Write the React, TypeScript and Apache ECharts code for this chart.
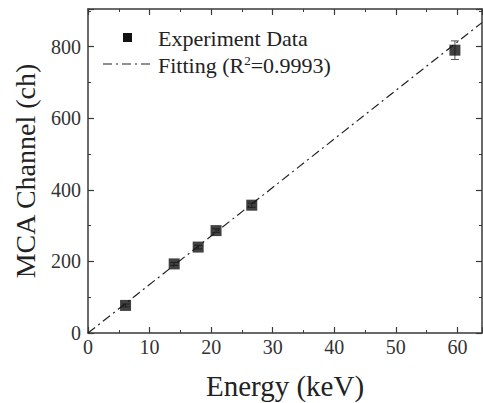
import React, { useEffect, useRef } from "react";
import * as echarts from "echarts";

const energies = [6.1, 14.0, 17.9, 20.8, 26.6, 59.6];
const channels = [77, 193, 240, 286, 357, 790];
const errors = [4, 4, 5, 5, 6, 26];
const fitX = [0, 64];
const fitY = [0, 867];
const xTicks = [0, 10, 20, 30, 40, 50, 60];
const yTicks = [0, 200, 400, 600, 800];

const FONT = "Liberation Serif";
const AX = "#3a3a3a";

export default function App() {
  const ref = useRef<HTMLDivElement>(null);
  useEffect(() => {
    if (!ref.current) return;
    const chart = echarts.init(ref.current, undefined, { renderer: "svg" });
    const axisCommon = {
      axisLine: { show: true, onZero: false, lineStyle: { color: AX, width: 1.5 } },
      axisTick: { show: true, inside: true, length: 6, lineStyle: { color: AX, width: 1.2 } },
      minorTick: { show: true, splitNumber: 2, length: 3, lineStyle: { color: AX, width: 1 } },
      splitLine: { show: false },
    };
    chart.setOption({
      animation: false,
      grid: { left: 88, top: 9, right: 1, bottom: 70, containLabel: false, outerBoundsMode: "none" },
      xAxis: [
        {
          type: "value",
          min: 0,
          max: 64,
          interval: 10,
          position: "bottom",
          name: "Energy (keV)",
          nameLocation: "middle",
          nameGap: 38,
          nameTextStyle: { fontFamily: FONT, fontSize: 29, color: "#222" },
          axisLabel: {
            fontFamily: FONT,
            fontSize: 20,
            color: "#333",
            margin: 4,
            formatter: (v: number) => (xTicks.includes(v) ? String(v) : ""),
          },
          ...axisCommon,
        },
        {
          type: "value",
          min: 0,
          max: 64,
          interval: 10,
          position: "top",
          axisLabel: { show: false },
          ...axisCommon,
        },
      ],
      yAxis: [
        {
          type: "value",
          min: 0,
          max: 905,
          interval: 200,
          position: "left",
          name: "MCA Channel (ch)",
          nameLocation: "middle",
          nameGap: 49,
          nameTextStyle: { fontFamily: FONT, fontSize: 28, color: "#222" },
          axisLabel: {
            fontFamily: FONT,
            fontSize: 20,
            color: "#333",
            margin: 7,
            formatter: (v: number) => (yTicks.includes(v) ? String(v) : ""),
          },
          ...axisCommon,
        },
        {
          type: "value",
          min: 0,
          max: 905,
          interval: 200,
          position: "right",
          axisLabel: { show: false },
          ...axisCommon,
        },
      ],
      series: [
        {
          type: "line",
          data: fitX.map((x, i) => [x, fitY[i]]),
          symbol: "none",
          lineStyle: { color: "#222", width: 1.2, type: [9, 4, 2, 4] },
          z: 2,
        },
        {
          type: "custom",
          data: energies.map((x, i) => [x, channels[i], errors[i]]),
          renderItem: (params: any, api: any) => {
            const x = api.value(0);
            const y = api.value(1);
            const e = api.value(2);
            const top = api.coord([x, y + e]);
            const bot = api.coord([x, y - e]);
            const w = 4;
            const style = { stroke: "#555", lineWidth: 1 };
            return {
              type: "group",
              children: [
                { type: "line", shape: { x1: top[0], y1: top[1], x2: bot[0], y2: bot[1] }, style },
                { type: "line", shape: { x1: top[0] - w, y1: top[1], x2: top[0] + w, y2: top[1] }, style },
                { type: "line", shape: { x1: bot[0] - w, y1: bot[1], x2: bot[0] + w, y2: bot[1] }, style },
              ],
            };
          },
          z: 3,
        },
        {
          type: "scatter",
          data: energies.map((x, i) => [x, channels[i]]),
          symbol: "rect",
          symbolSize: 11,
          itemStyle: { color: "#111" },
          z: 4,
        },
      ],
      graphic: [
        { type: "rect", shape: { x: 123, y: 33, width: 9, height: 9 }, style: { fill: "#111" } },
        {
          type: "text",
          x: 158,
          y: 38,
          style: { text: "Experiment Data", fontFamily: FONT, fontSize: 22, fill: "#222", verticalAlign: "middle" },
        },
        {
          type: "line",
          shape: { x1: 103, y1: 64, x2: 153, y2: 64 },
          style: { stroke: "#222", lineWidth: 1.2, lineDash: [9, 4, 2, 4] },
        },
        {
          type: "text",
          x: 158,
          y: 65,
          style: {
            text: "Fitting (R{sup|2}=0.9993)",
            fontFamily: FONT,
            fontSize: 22,
            fill: "#222",
            verticalAlign: "middle",
            rich: {
              sup: { fontFamily: FONT, fontSize: 13, fill: "#222", verticalAlign: "top", padding: [0, 0, 9, 0] },
            },
          },
        },
      ],
    });
    return () => chart.dispose();
  }, []);
  return <div ref={ref} style={{ width: 483, height: 403, position: "absolute", left: 0, top: 0 }} />;
}
